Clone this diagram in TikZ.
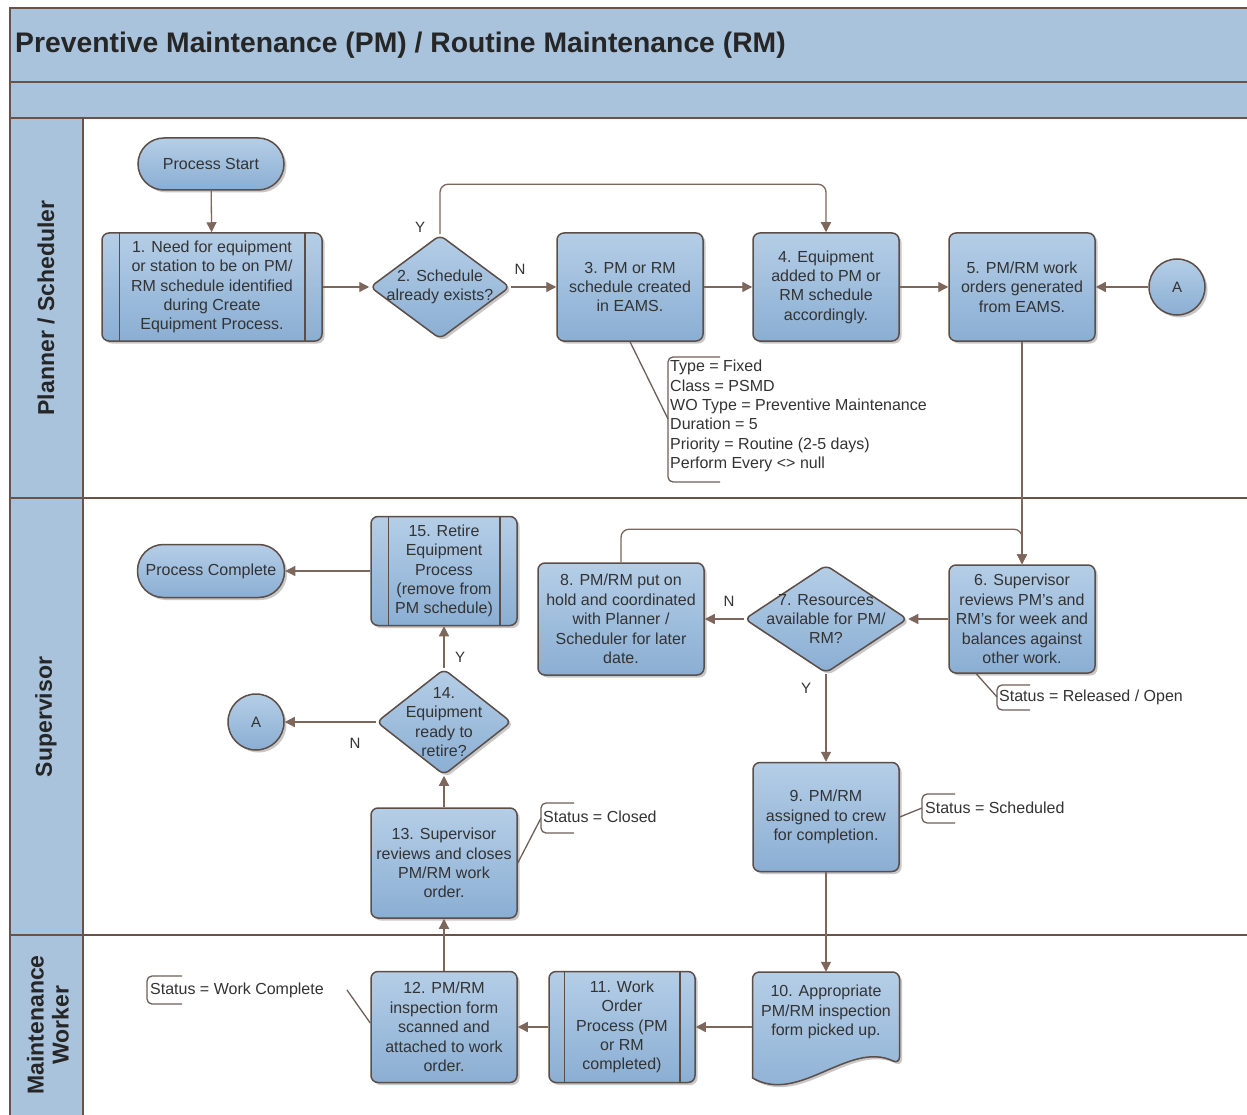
\documentclass[tikz,border=0pt]{standalone}
\usepackage{fontspec}
\setmainfont{Liberation Sans}
\usetikzlibrary{shapes.geometric,shadows,arrows.meta}
\definecolor{bandblue}{HTML}{A9C3DD}
\definecolor{nodetop}{HTML}{B5CEE7}
\definecolor{nodebot}{HTML}{8AAED3}
\definecolor{edgebrown}{HTML}{5C4D47}
\definecolor{arrowc}{HTML}{7D675D}
\definecolor{framec}{HTML}{6A5248}
\definecolor{notec}{HTML}{6E5F58}
\definecolor{txt}{HTML}{333333}
\begin{document}
\begin{tikzpicture}[x=1pt,y=-1pt,
  shadowed/.style={drop shadow={shadow xshift=2.5pt,shadow yshift=-2.5pt,opacity=0.3,fill=black!70}},
  box/.style={draw=edgebrown,line width=1.5pt,rounded corners=7pt,top color=nodetop,bottom color=nodebot,
    minimum width=146pt,minimum height=108pt,align=center,font=\fontsize{16}{19.4}\selectfont,text=txt,inner sep=1pt,shadowed},
  term/.style={box,minimum height=52pt,rounded corners=26pt},
  dec/.style={diamond,draw=edgebrown,line width=1.5pt,rounded corners=6pt,top color=nodetop,bottom color=nodebot,inner sep=0pt,shadowed},
  dtext/.style={align=center,font=\fontsize{16}{19.4}\selectfont,text=txt,inner sep=0pt},
  conn/.style={circle,draw=edgebrown,line width=1.5pt,top color=nodetop,bottom color=nodebot,minimum size=56pt,inner sep=0pt,
    font=\fontsize{15}{17}\selectfont,text=txt,shadowed},
  arr/.style={draw=arrowc,line width=1.3pt,-{Triangle[length=10pt,width=10pt]}},
  yn/.style={font=\fontsize{15}{17}\selectfont,text=txt,inner sep=0pt},
  bar/.style={draw=edgebrown,line width=1.5pt},
  note/.style={anchor=west,font=\fontsize{16}{19.4}\selectfont,text=txt,inner sep=0pt,align=left},
  brk/.style={draw=notec,line width=1.3pt,rounded corners=5pt},
  noteline/.style={draw=notec,line width=1.3pt},
  frame/.style={draw=framec,line width=2pt},
  lanelbl/.style={rotate=90,align=center,font=\bfseries\fontsize{23}{25}\selectfont,text=black!85,inner sep=0pt}
]
\useasboundingbox (0,0) rectangle (1247,1115);
\fill[white] (0,0) rectangle (1247,1115);
% swimlane frame
\fill[bandblue] (10,8) rectangle (1247,118);
\fill[bandblue] (10,118) rectangle (83,1115);
\draw[frame] (1247,8) -- (10,8) -- (10,1115);
\draw[frame] (10,82) -- (1247,82);
\draw[frame] (10,118) -- (1247,118);
\draw[frame] (83,118) -- (83,1115);
\draw[frame] (10,498) -- (1247,498);
\draw[frame] (10,935) -- (1247,935);

\node[anchor=base west,inner sep=0pt,font=\bfseries\fontsize{28.3}{31}\selectfont,text=black!85] (title) at (15,53)
  {Preventive Maintenance (PM) / Routine Maintenance (RM)};
\node[lanelbl] (lane1) at (46,308) {Planner / Scheduler};
\node[lanelbl] (lane2) at (46,717) {Supervisor};
\node[lanelbl] (lane3) at (48,1025) {Maintenance\\Worker};

% ---------- Planner / Scheduler lane
\node[term] (start) at (211,164) {Process Start};
\node[box,minimum width=220pt] (n1) at (212,287) {1. Need for equipment\\or station to be on PM/\\RM schedule identified\\during Create\\Equipment Process.};
\draw[bar] ([xshift=18pt]n1.north west) -- ([xshift=18pt]n1.south west);
\draw[bar] ([xshift=-18pt]n1.north east) -- ([xshift=-18pt]n1.south east);
\node[dec,minimum width=140pt,minimum height=104pt,label={[dtext]center:2. Schedule\\already exists?}] (d2) at (440,287) {};
\node[box] (n3) at (630,287) {3. PM or RM\\schedule created\\in EAMS.};
\node[box] (n4) at (826,287) {4. Equipment\\added to PM or\\RM schedule\\accordingly.};
\node[box] (n5) at (1022,287) {5. PM/RM work\\orders generated\\from EAMS.};
\node[conn] (a1) at (1177,287) {A};

\node[note,anchor=north west] (t3) at (670,360) {Type = Fixed\\Class = PSMD\\WO Type = Preventive Maintenance\\Duration = 5\\Priority = Routine (2-5 days)\\Perform Every <> null};
\draw[brk] (720,357) -- (668,357) -- (668,482) -- (720,482);
\coordinate (b3) at (668,419);

% ---------- Supervisor lane
\node[term,minimum width=147pt,minimum height=53pt] (pc) at (211,571) {Process Complete};
\node[box,minimum height=109pt] (n15) at (444,571) {15. Retire\\Equipment\\Process\\(remove from\\PM schedule)};
\draw[bar] ([xshift=18pt]n15.north west) -- ([xshift=18pt]n15.south west);
\draw[bar] ([xshift=-18pt]n15.north east) -- ([xshift=-18pt]n15.south east);
\node[box,minimum width=166pt,minimum height=112pt] (n8) at (621,619) {8. PM/RM put on\\hold and coordinated\\with Planner /\\Scheduler for later\\date.};
\node[dec,minimum width=163pt,minimum height=108pt,label={[dtext]center:7. Resources\\available for PM/\\RM?}] (d7) at (826,619) {};
\node[box] (n6) at (1022,619) {6. Supervisor\\reviews PM's and\\RM's for week and\\balances against\\other work.};
\node[conn] (a2) at (256,722) {A};
\node[dec,minimum width=135pt,minimum height=106pt,label={[dtext]center:14.\\Equipment\\ready to\\retire?}] (d14) at (444,722) {};
\node[box,minimum height=110pt] (n13) at (444,863) {13. Supervisor\\reviews and closes\\PM/RM work\\order.};
\node[box,minimum height=109pt] (n9) at (826,817) {9. PM/RM\\assigned to crew\\for completion.};

\node[note] (t6) at (999,697) {Status = Released / Open};
\draw[brk] (1030,685) -- (997,685) -- (997,710) -- (1030,710);
\coordinate (b6) at (997,697);
\node[note] (t9) at (925,808) {Status = Scheduled};
\draw[brk] (955,794) -- (922,794) -- (922,823) -- (955,823);
\coordinate (b9) at (922,808);
\node[note] (t13) at (543,817) {Status = Closed};
\draw[brk] (574,803) -- (541,803) -- (541,833) -- (574,833);
\coordinate (b13) at (541,818);

% ---------- Maintenance Worker lane
\node[box,minimum height=111pt] (n12) at (444,1027) {12. PM/RM\\inspection form\\scanned and\\attached to work\\order.};
\node[box,minimum height=111pt] (n11) at (622,1027) {11. Work\\Order\\Process (PM\\or RM\\completed)};
\draw[bar] ([xshift=16pt]n11.north west) -- ([xshift=16pt]n11.south west);
\draw[bar] ([xshift=-16pt]n11.north east) -- ([xshift=-16pt]n11.south east);
\path[draw=edgebrown,line width=1.5pt,top color=nodetop,bottom color=nodebot,shadowed,shift={(826,1027)}]
  [rounded corners=7pt] (-73.5,51) -- (-73.5,-55) -- (73.5,-55) -- (73.5,37)
  [sharp corners] .. controls (23,13) and (-27,78) .. (-73.5,51) -- cycle;
\node[align=center,font=\fontsize{16}{19.4}\selectfont,text=txt,inner sep=0pt,minimum width=147pt,minimum height=80pt] (n10) at (826,1012) {10. Appropriate\\PM/RM inspection\\form picked up.};

\node[note] (tw) at (150,990) {Status = Work Complete};
\draw[brk] (182,976) -- (147,976) -- (147,1004) -- (182,1004);
\coordinate (w12) at (347,990);

% ---------- connectors
\draw[arr] (start) -- (n1);
\draw[arr] (n1.east) -- (d2.west);
\draw[arr] (d2.east) -- (n3.west);
\draw[arr,rounded corners=8pt] (d2.north) -- ++(0,-50) -| (n4.north);
\draw[arr] (n3.east) -- (n4.west);
\draw[arr] (n4.east) -- (n5.west);
\draw[arr] (a1.west) -- (n5.east);
\draw[arr] (n5.south) -- (n6.north);
\draw[arr,rounded corners=8pt] (n8.north) -- ++(0,-33) -| (n6.north);
\draw[arr] (n6.west) -- (d7.east);
\draw[arr] (d7.west) -- (n8.east);
\draw[arr] (d7.south) -- (n9.north);
\draw[arr] (n9.south) -- (n10.north);
\draw[arr] (n10.west |- n11.east) -- (n11.east);
\draw[arr] (n11.west) -- (n12.east);
\draw[arr] (n12.north) -- (n13.south);
\draw[arr] (n13.north) -- (d14.south);
\draw[arr] (d14.north) -- (n15.south);
\draw[arr] (d14.west) -- (a2.east);
\draw[arr] (n15.west) -- (pc.east);

\node[yn] (y2) at (420,227) {Y};
\node[yn] (nn2) at (520,269) {N};
\node[yn] (nn7) at (729,601) {N};
\node[yn] (y7) at (806,688) {Y};
\node[yn] (y14) at (460,657) {Y};
\node[yn] (nn14) at (355,743) {N};

% annotation connectors
\draw[noteline] (n3.south) -- (b3);
\draw[noteline] ([xshift=28pt]n6.south west) -- (b6);
\draw[noteline] (n9.east) -- (b9);
\draw[noteline] (n13.east) -- (b13);
\draw[noteline] (w12) -- ([yshift=4pt]n12.west);
\end{tikzpicture}
\end{document}
